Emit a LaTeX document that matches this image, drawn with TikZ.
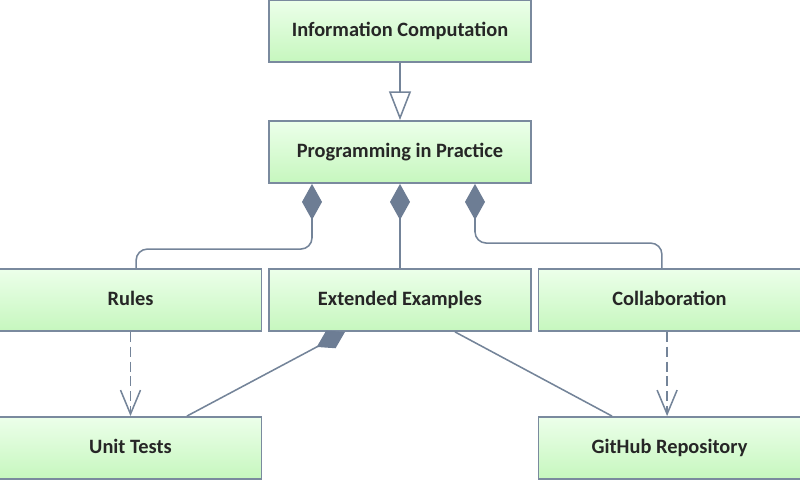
\documentclass[tikz,border=0pt]{standalone}
\usepackage{fontspec}
\setmainfont{Carlito}
\usetikzlibrary{arrows.meta}
\definecolor{boxtop}{RGB}{236,255,234}
\definecolor{boxbot}{RGB}{198,247,190}
\definecolor{boxline}{RGB}{122,138,158}
\definecolor{conline}{RGB}{116,132,153}
\definecolor{dmd}{RGB}{109,125,148}
\definecolor{txt}{RGB}{38,38,38}
\begin{document}
\begin{tikzpicture}[>=latex,
		box/.style={draw=boxline,line width=1.3pt,top color=boxtop,bottom color=boxbot,minimum width=6.55cm,minimum height=1.55cm,text=txt,text height=2.2ex,text depth=0.45ex,font=\fontsize{14.5}{16}\selectfont\bfseries},
		con/.style={draw=conline,line width=1.1pt},
		comp/.style={con,{Diamond[length=0.9cm,width=0.5cm,fill=dmd,color=dmd]}-},
		uses/.style={con,dash pattern=on 0.25cm off 0.12cm,-{Straight Barb[length=0.6cm,width=0.5cm]}}]
		\useasboundingbox (0,0) rectangle (20,12);

		\node (info)  [box] at (10,11.225) {Information Computation};
		\node (pip)   [box] at (10,8.2) {Programming in Practice};
		\node (rules) [box] at (3.2625,4.5) {Rules};
		\node (ext)   [box] at (10,4.5) {Extended Examples};
		\node (coll)  [box] at (16.7375,4.5) {Collaboration};
		\node (unit)  [box] at (3.2625,0.8) {Unit Tests};
		\node (git)   [box] at (16.7375,0.8) {GitHub Repository};

		\draw [con,-{Triangle[open,length=0.72cm,width=0.55cm,fill=white]}] (info.south) -- (pip.north);
		\draw [comp,rounded corners=8pt] ([xshift=-2.2cm]pip.south) |- ([xshift=0.14cm,yshift=0.475cm]rules.north) -- ([xshift=0.14cm]rules.north);
		\draw [comp] (pip.south) -- (ext.north);
		\draw [comp,rounded corners=8pt] ([xshift=1.875cm]pip.south) |- ([xshift=-0.19cm,yshift=0.625cm]coll.north) -- ([xshift=-0.19cm]coll.north);
		\draw [uses] (rules.south) -- (unit.north);
		\draw [uses] ([xshift=-0.06cm]coll.south) -- ([xshift=-0.06cm]git.north);
		\draw [con,-{Diamond[length=0.8cm,width=0.5cm,fill=dmd,color=dmd]}] ([xshift=1.41cm]unit.north) -- ([xshift=-1.375cm]ext.south);
		\draw [con] ([xshift=1.375cm]ext.south) -- ([xshift=-1.4375cm]git.north);
	\end{tikzpicture}
\end{document}
